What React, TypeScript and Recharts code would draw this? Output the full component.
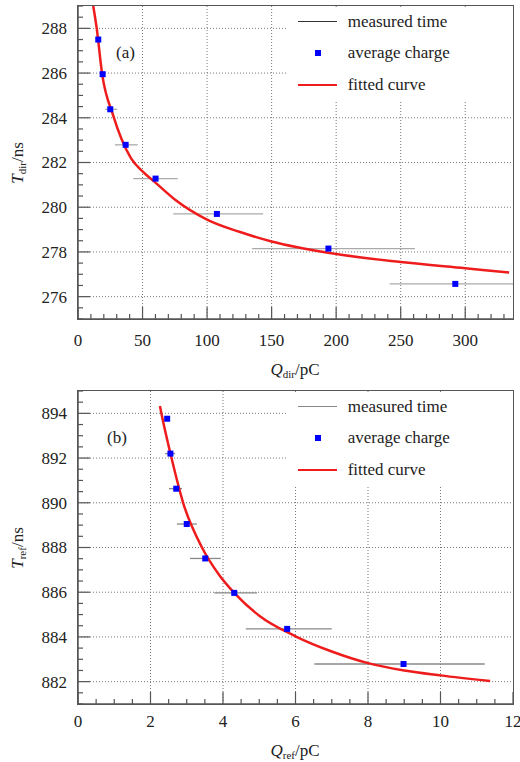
import {
  ComposedChart,
  ErrorBar,
  Line,
  ReferenceLine,
  Scatter,
  XAxis,
  YAxis,
} from 'recharts';

// panel (a): direct signal
const A_Q = [15.7, 19.1, 25.0, 36.9, 60.1, 107.6, 194.0, 292.3];
const A_T = [287.5, 285.95, 284.38, 282.79, 281.28, 279.7, 278.15, 276.57];
const A_Q_LOW = [14.6, 17.6, 21.1, 28.6, 42.8, 73.8, 134.9, 241.5];
const A_Q_HIGH = [16.8, 20.6, 30.4, 46.2, 77.2, 143.4, 261, 337];
const A_FIT_Q = [11.8, 14.5, 18.6, 27.3, 41, 50, 60, 75, 100, 125, 150, 195, 250, 300, 334];
const A_FIT_T = [289.0, 288.0, 286.0, 284.1, 282.2, 281.6, 281.1, 280.35, 279.45, 278.9, 278.47, 277.95, 277.55, 277.27, 277.08];
const A_X_MAJOR = [0, 50, 100, 150, 200, 250, 300];
const A_Y_MAJOR = [276, 278, 280, 282, 284, 286, 288];

// panel (b): reflected signal
const B_Q = [2.46, 2.55, 2.71, 3.0, 3.51, 4.31, 5.77, 8.98];
const B_T = [893.76, 892.2, 890.63, 889.05, 887.51, 885.97, 884.36, 882.79];
const B_Q_LOW = [2.42, 2.4, 2.51, 2.73, 3.09, 3.76, 4.63, 6.52];
const B_Q_HIGH = [2.5, 2.68, 2.87, 3.28, 3.94, 4.94, 7.0, 11.22];
const B_FIT_Q = [2.26, 2.3, 2.58, 2.9, 3.42, 3.9, 4.31, 5.0, 6.0, 7.0, 8.0, 9.0, 10.0, 11.37];
const B_FIT_T = [894.33, 894.0, 892.0, 890.0, 888.0, 886.76, 885.97, 884.95, 884.03, 883.35, 882.83, 882.5, 882.28, 882.03];
const B_X_MAJOR = [0, 2, 4, 6, 8, 10, 12];
const B_Y_MAJOR = [882, 884, 886, 888, 890, 892, 894];

const LEGEND_LABELS = ['measured time', 'average charge', 'fitted curve'];

const FONT = '"Liberation Serif", Tinos, "Nimbus Roman", "Times New Roman", Times, "DejaVu Serif", serif';
const AXIS = '#555';
const GRID = '#777';
const CURVE = '#ee1c1c';
const MARK = '#0000ff';

function stepTicks(from: number, to: number, step: number): number[] {
  const count = Math.round((to - from) / step);
  return Array.from({ length: count + 1 }, (_, i) => Math.round((from + i * step) * 1000) / 1000);
}

function toPoints(q: number[], t: number[], lo: number[], hi: number[]) {
  return q.map((v, i) => ({ q: v, t: t[i], err: [v - lo[i], hi[i] - v] }));
}

function toCurve(q: number[], t: number[]) {
  return q.map((v, i) => ({ q: v, t: t[i] }));
}

function XTick({ x, y, payload, majors, labelDy }: any) {
  const major = majors.includes(payload.value);
  return (
    <g>
      <line x1={x} x2={x} y1={y} y2={y - (major ? 12 : 5)} stroke={AXIS} strokeWidth={1.2} />
      {major && (
        <text x={x} y={y + labelDy} textAnchor="middle" dy="0.35em" fontSize={17} fontFamily={FONT} fill="#222">
          {payload.value}
        </text>
      )}
    </g>
  );
}

function YTick({ x, y, payload, majors }: any) {
  const major = majors.includes(payload.value);
  return (
    <g>
      <line x1={x} x2={x + (major ? 12 : 5)} y1={y} y2={y} stroke={AXIS} strokeWidth={1.2} />
      {major && (
        <text x={x - 11} y={y} textAnchor="end" dy="0.35em" fontSize={17} fontFamily={FONT} fill="#222">
          {payload.value}
        </text>
      )}
    </g>
  );
}

const square = (p: any) => <rect x={p.cx - 3} y={p.cy - 3} width={6} height={6} fill={MARK} />;
const nothing = () => <g />;

interface PanelProps {
  points: { q: number; t: number; err: number[] }[];
  curve: { q: number; t: number }[];
  xDomain: [number, number];
  yDomain: [number, number];
  xMajor: number[];
  yMajor: number[];
  xMinorStep: number;
  height: number;
  top: number;
  bottom: number;
  labelDy: number;
  barColor: string;
}

function Panel({ points, curve, xDomain, yDomain, xMajor, yMajor, xMinorStep, height, top, bottom, labelDy, barColor }: PanelProps) {
  const xTicks = stepTicks(xDomain[0], Math.floor(xDomain[1] / xMinorStep) * xMinorStep, xMinorStep);
  const yTicks = stepTicks(yDomain[0], yDomain[1], 0.5);
  return (
    <ComposedChart width={520} height={height} margin={{ top, right: 7, bottom, left: 18 }}>
      <XAxis
        type="number"
        dataKey="q"
        domain={xDomain}
        allowDataOverflow
        ticks={xTicks}
        interval={0}
        tickSize={0}
        tickMargin={0}
        tickLine={false}
        height={30}
        axisLine={{ stroke: AXIS, strokeWidth: 1.5 }}
        tick={(p: any) => <XTick {...p} majors={xMajor} labelDy={labelDy} />}
      />
      <YAxis
        type="number"
        dataKey="t"
        domain={yDomain}
        allowDataOverflow
        ticks={yTicks}
        interval={0}
        tickSize={0}
        tickMargin={0}
        tickLine={false}
        width={60}
        axisLine={{ stroke: AXIS, strokeWidth: 1.5 }}
        tick={(p: any) => <YTick {...p} majors={yMajor} />}
      />
      {xMajor
        .filter((v) => v > xDomain[0] && v < xDomain[1])
        .map((v) => (
          <ReferenceLine key={`gx${v}`} x={v} stroke={GRID} strokeDasharray="1 2" strokeWidth={1} />
        ))}
      {yMajor.map((v) => (
        <ReferenceLine key={`gy${v}`} y={v} stroke={GRID} strokeDasharray="1 2" strokeWidth={1} />
      ))}
      <Scatter data={points} dataKey="t" shape={nothing} isAnimationActive={false}>
        <ErrorBar dataKey="err" direction="x" width={0} stroke={barColor} strokeWidth={1.3} />
      </Scatter>
      <Line
        data={curve}
        dataKey="t"
        type="monotone"
        stroke={CURVE}
        strokeWidth={2.5}
        dot={false}
        activeDot={false}
        isAnimationActive={false}
      />
      <Scatter data={points} dataKey="t" shape={square} isAnimationActive={false} />
    </ComposedChart>
  );
}

function LegendBox({ top, lineColor }: { top: number; lineColor: string }) {
  // rows are centred at 14.7, 46.3 and 78 px below the box top
  const rows = [14.7, 46.3, 78];
  return (
    <div style={{ position: 'absolute', left: 288, top, width: 224, height: 94, background: '#fff' }}>
      <div style={{ position: 'absolute', left: 10, top: rows[0] - 0.6, width: 39, height: 1.2, background: lineColor }} />
      <div style={{ position: 'absolute', left: 26.5, top: rows[1] - 3, width: 6, height: 6, background: MARK }} />
      <div style={{ position: 'absolute', left: 10, top: rows[2] - 1.25, width: 39, height: 2.5, background: CURVE }} />
      {LEGEND_LABELS.map((label, i) => (
        <div
          key={label}
          style={{
            position: 'absolute',
            left: 59.7,
            top: rows[i] - 10,
            height: 20,
            lineHeight: '20px',
            fontSize: 17,
            fontFamily: FONT,
            color: '#222',
            whiteSpace: 'nowrap',
          }}
        >
          {label}
        </div>
      ))}
    </div>
  );
}

function Frame({ left, top, width, height }: { left: number; top: number; width: number; height: number }) {
  return (
    <div
      style={{
        position: 'absolute',
        left: left - 0.75,
        top: top - 0.75,
        width,
        height,
        border: `1.5px solid ${AXIS}`,
        pointerEvents: 'none',
      }}
    />
  );
}

const titleStyle = {
  position: 'absolute' as const,
  fontFamily: FONT,
  fontSize: 17,
  lineHeight: 1,
  color: '#222',
  whiteSpace: 'nowrap' as const,
};
const subStyle = { fontSize: 11, verticalAlign: '-0.3em', lineHeight: 0 };

export default function App() {
  const pointsA = toPoints(A_Q, A_T, A_Q_LOW, A_Q_HIGH);
  const pointsB = toPoints(B_Q, B_T, B_Q_LOW, B_Q_HIGH);
  const curveA = toCurve(A_FIT_Q, A_FIT_T);
  const curveB = toCurve(B_FIT_Q, B_FIT_T);

  return (
    <div style={{ position: 'absolute', left: 0, top: 0, width: 520, height: 762, background: '#fff' }}>
      <div style={{ position: 'absolute', left: 0, top: 0 }}>
        <Panel
          points={pointsA}
          curve={curveA}
          xDomain={[0, 337]}
          yDomain={[275, 289]}
          xMajor={A_X_MAJOR}
          yMajor={A_Y_MAJOR}
          xMinorStep={10}
          height={380}
          top={6}
          bottom={31}
          labelDy={21}
          barColor="#aaa"
        />
      </div>
      <div style={{ position: 'absolute', left: 0, top: 380 }}>
        <Panel
          points={pointsB}
          curve={curveB}
          xDomain={[0, 12]}
          yDomain={[881, 895]}
          xMajor={B_X_MAJOR}
          yMajor={B_Y_MAJOR}
          xMinorStep={0.5}
          height={382}
          top={11}
          bottom={28}
          labelDy={17.5}
          barColor="#888"
        />
      </div>

      <LegendBox top={7} lineColor="#333" />
      <LegendBox top={392} lineColor="#888" />

      <Frame left={78} top={6} width={435} height={313} />
      <Frame left={78} top={391} width={435} height={313} />

      <div style={{ ...titleStyle, left: 116, top: 44 }}>(a)</div>
      <div style={{ ...titleStyle, left: 107, top: 429 }}>(b)</div>

      <div style={{ ...titleStyle, left: 295, top: 369, transform: 'translate(-50%, -50%)' }}>
        <i>Q</i>
        <span style={subStyle}>dir</span>/pC
      </div>
      <div style={{ ...titleStyle, left: 295, top: 750, transform: 'translate(-50%, -50%)' }}>
        <i>Q</i>
        <span style={subStyle}>ref</span>/pC
      </div>
      <div style={{ ...titleStyle, left: 17, top: 163, transform: 'translate(-50%, -50%) rotate(-90deg)' }}>
        <i>T</i>
        <span style={subStyle}>dir</span>/ns
      </div>
      <div style={{ ...titleStyle, left: 17, top: 548, transform: 'translate(-50%, -50%) rotate(-90deg)' }}>
        <i>T</i>
        <span style={subStyle}>ref</span>/ns
      </div>
    </div>
  );
}
